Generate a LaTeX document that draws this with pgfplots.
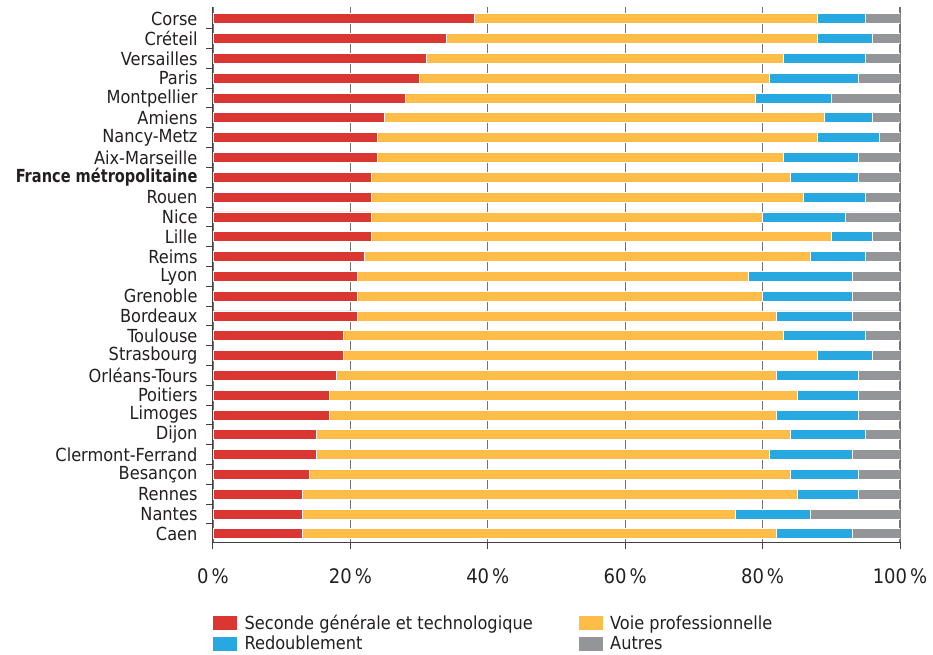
\documentclass[border=0pt]{standalone}
\usepackage{fontspec}
\setmainfont{DejaVu Sans Condensed}
\usepackage{graphicx}
\usepackage{pgfplots}
\usepackage{pgfplotstable}
\pgfplotsset{compat=1.18}
\definecolor{cred}{HTML}{DA3733}
\definecolor{cyel}{HTML}{FDBD48}
\definecolor{cblu}{HTML}{27A8E0}
\definecolor{cgry}{HTML}{939598}
\definecolor{ctxt}{HTML}{231F20}
\pgfplotstableread{
idx red yel blu gry
0 38 50 7 5
1 34 54 8 4
2 31 52 12 5
3 30 51 13 6
4 28 51 11 10
5 25 64 7 4
6 24 64 9 3
7 24 59 11 6
8 23 61 10 6
9 23 63 9 5
10 23 57 12 8
11 23 67 6 4
12 22 65 8 5
13 21 57 15 7
14 21 59 13 7
15 21 61 11 7
16 19 64 12 5
17 19 69 8 4
18 18 64 12 6
19 17 68 9 6
20 17 65 12 6
21 15 69 11 5
22 15 66 12 7
23 14 70 10 6
24 13 72 9 6
25 13 63 11 13
26 13 69 11 7
}\datatable
\begin{document}
\begin{tikzpicture}
\useasboundingbox (-213pt,-112pt) rectangle (720pt,542pt);
\begin{axis}[
  at={(0,0)}, anchor=south west,
  scale only axis, width=687pt, height=534.7pt,
  xbar stacked, bar width=10pt,
  xmin=0, xmax=100,
  ymin=-0.58, ymax=26.41, y dir=reverse,
  axis x line*=bottom, axis y line*=left,
  axis line style={color=ctxt!85, line width=1pt},
  xtick={0,20,40,60,80,100},
  xticklabels={0\hspace{3pt}\%,20\hspace{3pt}\%,40\hspace{3pt}\%,60\hspace{3pt}\%,80\hspace{3pt}\%,100\hspace{3pt}\%},
  xticklabel style={font=\fontsize{20}{23}\selectfont, text=ctxt, yshift=-16pt},
  tick align=outside,
  major tick length=7pt,
  tick style={color=ctxt!85, line width=1pt},
  xmajorgrids,
  grid style={color=black!55, line width=1.3pt},
  ytick={0.5,1.5,...,25.5},
  yticklabels={},
  extra y ticks={0,...,26},
  extra y tick labels={Corse,Créteil,Versailles,Paris,Montpellier,Amiens,Nancy-Metz,Aix-Marseille,\scalebox{0.9}[1]{\textbf{France métropolitaine}},Rouen,Nice,Lille,Reims,Lyon,Grenoble,Bordeaux,Toulouse,Strasbourg,Orléans-Tours,Poitiers,Limoges,Dijon,Clermont-Ferrand,Besançon,Rennes,Nantes,Caen},
  extra y tick style={major tick length=0pt, grid=none,
     yticklabel style={font=\fontsize{18}{20}\selectfont, text=ctxt, xshift=-12pt}},
  every axis plot/.append style={draw=white, line width=0.8pt},
  legend columns=2,
  legend cell align=left,
  legend image code/.code={\fill[#1,draw=none] (0pt,-7pt) rectangle (24pt,7pt); \path (29pt,0pt);},
  legend style={at={(0,0)}, anchor=north west, yshift=-71pt, xshift=0pt,
    draw=none, fill=none, inner sep=0pt,
    font=\fontsize{18}{20}\selectfont, text=ctxt,
    row sep=1pt,
    /tikz/every even column/.append style={column sep=44pt}},
]
\addplot[fill=cred] table[x=red, y=idx] {\datatable};
\addplot[fill=cyel] table[x=yel, y=idx] {\datatable};
\addplot[fill=cblu] table[x=blu, y=idx] {\datatable};
\addplot[fill=cgry] table[x=gry, y=idx] {\datatable};
\legend{Seconde générale et technologique, Voie professionnelle, Redoublement, Autres}
\end{axis}
\end{tikzpicture}
\end{document}
